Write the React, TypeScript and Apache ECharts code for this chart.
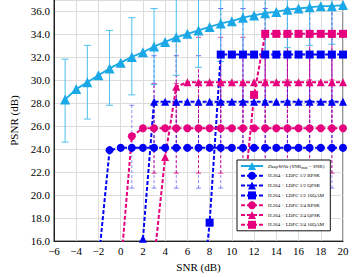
import React, { useEffect, useRef } from 'react';
import * as echarts from 'echarts';

// ---- tick labels / axis ranges ----
const xTicks = [-6, -4, -2, 0, 2, 4, 6, 8, 10, 12, 14, 16, 18, 20];
const yTicks = [16, 18, 20, 22, 24, 26, 28, 30, 32, 34, 36];

// ---- DeepWiVe ----
const deepX = [-5, -4, -3, -2, -1, 0, 1, 2, 3, 4, 5, 6, 7, 8, 9, 10, 11, 12, 13, 14, 15, 16, 17, 18, 19, 20];
const deepY = [28.3, 29.2, 29.8, 30.4, 31.0, 31.5, 32.0, 32.4, 32.9, 33.3, 33.7, 34.0, 34.3, 34.6, 34.9, 35.1, 35.4, 35.6, 35.8, 35.9, 36.1, 36.2, 36.3, 36.4, 36.4, 36.5];
const deepErrX = [-5, -3, -1, 1, 3, 5, 7, 9, 11, 13, 15, 17, 19];
const deepErrLo = [24.6, 26.6, 27.8, 28.7, 29.6, 30.4, 31.1, 31.6, 32.1, 32.5, 32.8, 33.0, 33.1];
const deepErrHi = [31.8, 33.0, 34.3, 35.4, 36.2, 37.0, 37.5, 38.1, 38.7, 39.1, 39.4, 39.6, 39.7];

// ---- H.264 + LDPC ----
const bpsk12X = [-2, -1, 0, 1, 2, 3, 4, 5, 6, 7, 8, 9, 10, 11, 12, 13, 14, 15, 16, 17, 18, 19, 20];
const bpsk12Y = [14.2, 23.9, 24.1, 24.1, 24.1, 24.1, 24.1, 24.1, 24.1, 24.1, 24.1, 24.1, 24.1, 24.1, 24.1, 24.1, 24.1, 24.1, 24.1, 24.1, 24.1, 24.1, 24.1];
const qpsk12X = [2, 3, 4, 5, 6, 7, 8, 9, 10, 11, 12, 13, 14, 15, 16, 17, 18, 19, 20];
const qpsk12Y = [16.2, 28.1, 28.1, 28.1, 28.1, 28.1, 28.1, 28.1, 28.1, 28.1, 28.1, 28.1, 28.1, 28.1, 28.1, 28.1, 28.1, 28.1, 28.1];
const qam12X = [7, 8, 9, 10, 11, 12, 13, 14, 15, 16, 17, 18, 19, 20];
const qam12Y = [8.0, 17.6, 32.2, 32.2, 32.2, 32.2, 32.2, 32.2, 32.2, 32.2, 32.2, 32.2, 32.2, 32.2];
const bpsk34X = [0, 1, 2, 3, 4, 5, 6, 7, 8, 9, 10, 11, 12, 13, 14, 15, 16, 17, 18, 19, 20];
const bpsk34Y = [13.7, 25.1, 25.8, 25.8, 25.8, 25.8, 25.8, 25.8, 25.8, 25.8, 25.8, 25.8, 25.8, 25.8, 25.8, 25.8, 25.8, 25.8, 25.8, 25.8, 25.8];
const qpsk34X = [3, 4, 5, 6, 7, 8, 9, 10, 11, 12, 13, 14, 15, 16, 17, 18, 19, 20];
const qpsk34Y = [14.3, 23.3, 29.4, 29.8, 29.8, 29.8, 29.8, 29.8, 29.8, 29.8, 29.8, 29.8, 29.8, 29.8, 29.8, 29.8, 29.8, 29.8];
const qam34X = [11, 12, 13, 14, 15, 16, 17, 18, 19, 20];
const qam34Y = [19.0, 28.7, 34.0, 34.0, 34.0, 34.0, 34.0, 34.0, 34.0, 34.0];

// error bars (x, low, high)
const bpsk12ErrX = [1, 3, 5, 7, 9, 11, 13, 15, 17, 19];
const bpsk12ErrLo = [20.6, 20.6, 20.6, 20.6, 20.6, 20.6, 20.6, 20.6, 20.6, 20.6];
const bpsk12ErrHi = [27.8, 27.8, 27.8, 27.8, 27.8, 27.8, 27.8, 27.8, 27.8, 27.8];
const bpsk34ErrX = [3, 5, 7, 9, 11, 13, 15, 17, 19];
const bpsk34ErrLo = [21.9, 21.9, 21.9, 21.9, 21.9, 21.9, 21.9, 21.9, 21.9];
const bpsk34ErrHi = [29.7, 29.7, 29.7, 29.7, 29.7, 29.7, 29.7, 29.7, 29.7];
const qpsk12ErrX = [3, 5, 7, 9, 11, 13, 15, 17, 19];
const qpsk12ErrLo = [24.1, 24.1, 24.1, 24.1, 24.1, 24.1, 24.1, 24.1, 24.1];
const qpsk12ErrHi = [32.1, 32.1, 32.1, 32.1, 32.1, 32.1, 32.1, 32.1, 32.1];
const qpsk34ErrX = [5, 7, 9, 11, 13, 15, 17, 19];
const qpsk34ErrLo = [25.9, 25.9, 25.9, 25.9, 25.9, 25.9, 25.9, 25.9];
const qpsk34ErrHi = [33.7, 33.7, 33.7, 33.7, 33.7, 33.7, 33.7, 33.7];
const qam12ErrX = [9, 11, 13, 15, 17, 19];
const qam12ErrLo = [28.2, 28.2, 28.2, 28.2, 28.2, 28.2];
const qam12ErrHi = [36.2, 36.2, 36.2, 36.2, 36.2, 36.2];
const qam34ErrX = [13, 15, 17, 19];
const qam34ErrLo = [30.0, 30.0, 30.0, 30.0];
const qam34ErrHi = [38.0, 38.0, 38.0, 38.0];

const names = [
  'DeepWiVe',
  'H.264 + LDPC 1/2 BPSK',
  'H.264 + LDPC 1/2 QPSK',
  'H.264 + LDPC 1/2 16QAM',
  'H.264 + LDPC 3/4 BPSK',
  'H.264 + LDPC 3/4 QPSK',
  'H.264 + LDPC 3/4 16QAM',
];

const CYAN = '#1aa9e6';
const CYAN_ERR = '#4cc0ee';
const BLUE = '#0000f5';
const PINK = '#e6007e';
const FONT = 'Liberation Serif';

const zip = (xs: number[], ys: number[]) => xs.map((x, i) => [x, ys[i]]);
const zip3 = (xs: number[], lo: number[], hi: number[]) => xs.map((x, i) => [x, lo[i], hi[i]]);

function errSeries(name: string, data: number[][], color: string, opacity: number, dashed: boolean, cap: number) {
  return {
    type: 'custom',
    name,
    clip: true,
    z: 1,
    silent: true,
    encode: { x: 0, y: [1, 2] },
    data,
    renderItem: (params: any, api: any) => {
      const x = api.value(0);
      const lo = api.coord([x, api.value(1)]);
      const hi = api.coord([x, api.value(2)]);
      const style: any = { stroke: color, lineWidth: 1, opacity };
      if (dashed) style.lineDash = [3, 2];
      const capStyle: any = { stroke: color, lineWidth: 1, opacity };
      return {
        type: 'group',
        children: [
          { type: 'line', shape: { x1: lo[0], y1: lo[1], x2: hi[0], y2: hi[1] }, style },
          { type: 'line', shape: { x1: lo[0] - cap, y1: lo[1], x2: lo[0] + cap, y2: lo[1] }, style: capStyle },
          { type: 'line', shape: { x1: hi[0] - cap, y1: hi[1], x2: hi[0] + cap, y2: hi[1] }, style: capStyle },
        ],
      };
    },
  };
}

function h264Series(name: string, data: number[][], color: string, symbol: string, size: number) {
  return {
    type: 'line',
    name,
    data,
    z: 3,
    symbol,
    symbolSize: size,
    showAllSymbol: true,
    lineStyle: { color, width: 2, type: [4, 2] },
    itemStyle: { color },
    clip: true,
  };
}

export default function App() {
  const ref = useRef<HTMLDivElement>(null);
  useEffect(() => {
    const chart = echarts.init(ref.current!, null, { renderer: 'svg' });
    const option: any = {
      animation: false,
      backgroundColor: '#fff',
      grid: { left: 48.7, right: 11, top: 0, bottom: 32, show: true, borderColor: '#222', borderWidth: 1, backgroundColor: 'transparent' },
      xAxis: {
        type: 'value',
        min: xTicks[0],
        max: xTicks[xTicks.length - 1],
        interval: 2,
        name: 'SNR (dB)',
        nameLocation: 'middle',
        nameGap: 15,
        nameTextStyle: { fontFamily: FONT, fontSize: 11, color: '#000' },
        axisLine: { show: true, onZero: false, lineStyle: { color: '#222', width: 1 } },
        axisTick: { show: false },
        axisLabel: {
          fontFamily: FONT, fontSize: 11, color: '#000', margin: 4,
          formatter: (v: number) => (v < 0 ? '\u2212' + Math.abs(v) : String(v)),
        },
        splitLine: { show: true, lineStyle: { color: '#dcdcdc', width: 1 } },
      },
      yAxis: {
        type: 'value',
        min: yTicks[0],
        max: 36.94,
        interval: 2,
        name: 'PSNR (dB)',
        nameLocation: 'middle',
        nameGap: 35,
        nameTextStyle: { fontFamily: FONT, fontSize: 11, color: '#000' },
        axisLine: { show: true, onZero: false, lineStyle: { color: '#222', width: 1 } },
        axisTick: { show: false },
        axisLabel: {
          fontFamily: FONT, fontSize: 11, color: '#000', margin: 4,
          formatter: (v: number) => (yTicks.indexOf(v) >= 0 ? v.toFixed(1) : ''),
        },
        splitLine: { show: true, lineStyle: { color: '#dcdcdc', width: 1 } },
      },
      legend: {
        data: names,
        orient: 'vertical',
        left: 237,
        top: 160,
        padding: [2, 6, 2, 3],
        itemWidth: 22,
        itemHeight: 10,
        itemGap: 1.8,
        itemTextGap: 8,
        backgroundColor: '#fff',
        borderColor: '#111',
        borderWidth: 1,
        borderRadius: 0,
        selectedMode: false,
        formatter: (n: string) => (n === 'DeepWiVe' ? '{i|DeepWiVe} (SNR{s|train} = SNR)' : n),
        textStyle: {
          fontFamily: FONT, fontSize: 5, color: '#000',
          rich: {
            i: { fontFamily: FONT, fontSize: 5, fontStyle: 'italic', color: '#000' },
            s: { fontFamily: FONT, fontSize: 3.5, color: '#000', padding: [3, 0, 0, 0] },
          },
        },
      },
      series: [
        errSeries('err-bpsk12', zip3(bpsk12ErrX, bpsk12ErrLo, bpsk12ErrHi), BLUE, 0.45, true, 2.5),
        errSeries('err-bpsk34', zip3(bpsk34ErrX, bpsk34ErrLo, bpsk34ErrHi), PINK, 0.8, true, 2.5),
        errSeries('err-qpsk12', zip3(qpsk12ErrX, qpsk12ErrLo, qpsk12ErrHi), BLUE, 0.6, true, 2.5),
        errSeries('err-qpsk34', zip3(qpsk34ErrX, qpsk34ErrLo, qpsk34ErrHi), PINK, 0.8, true, 2.5),
        errSeries('err-qam12', zip3(qam12ErrX, qam12ErrLo, qam12ErrHi), BLUE, 0.6, true, 2.5),
        errSeries('err-qam34', zip3(qam34ErrX, qam34ErrLo, qam34ErrHi), PINK, 0.8, true, 2.5),
        errSeries('err-deep', zip3(deepErrX, deepErrLo, deepErrHi), CYAN_ERR, 1, false, 3.5),
        h264Series(names[1], zip(bpsk12X, bpsk12Y), BLUE, 'circle', 8),
        h264Series(names[2], zip(qpsk12X, qpsk12Y), BLUE, 'triangle', 8),
        h264Series(names[3], zip(qam12X, qam12Y), BLUE, 'rect', 8),
        h264Series(names[4], zip(bpsk34X, bpsk34Y), PINK, 'circle', 8),
        h264Series(names[5], zip(qpsk34X, qpsk34Y), PINK, 'triangle', 8),
        h264Series(names[6], zip(qam34X, qam34Y), PINK, 'rect', 8),
        {
          type: 'line',
          name: names[0],
          data: zip(deepX, deepY),
          z: 4,
          symbol: 'triangle',
          symbolSize: 10,
          showAllSymbol: true,
          lineStyle: { color: CYAN, width: 1.8 },
          itemStyle: { color: CYAN },
          clip: true,
        },
      ],
    };
    chart.setOption(option);
    return () => chart.dispose();
  }, []);
  return <div ref={ref} style={{ position: 'fixed', left: 0, top: 0, width: 354, height: 277 }} />;
}
